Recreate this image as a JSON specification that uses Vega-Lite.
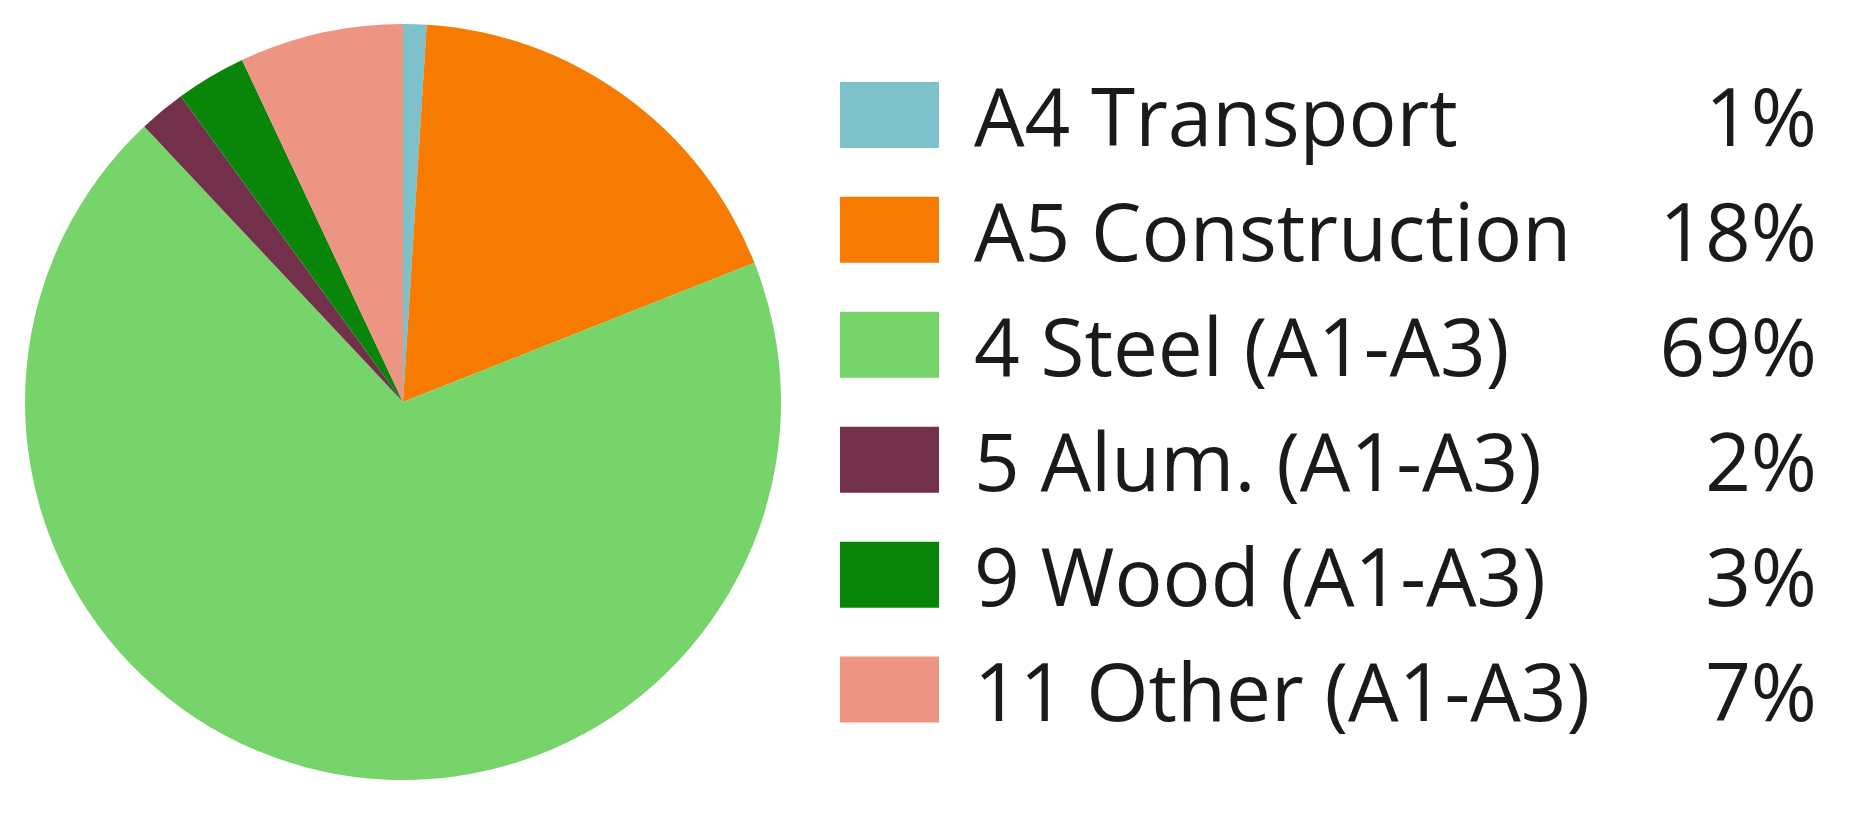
{
  "$schema": "https://vega.github.io/schema/vega-lite/v6.json",
  "padding": 0,
  "spacing": 0,
  "background": "white",
  "config": {"view": {"stroke": null}, "font": "Open Sans"},
  "data": {"values": [
    {"category": "A4 Transport", "value": 0.01, "rank": 1},
    {"category": "A5 Construction", "value": 0.18, "rank": 2},
    {"category": "4 Steel (A1-A3)", "value": 0.69, "rank": 3},
    {"category": "5 Alum. (A1-A3)", "value": 0.02, "rank": 4},
    {"category": "9 Wood (A1-A3)", "value": 0.03, "rank": 5},
    {"category": "11 Other (A1-A3)", "value": 0.07, "rank": 6}
  ]},
  "hconcat": [
    {
      "width": 806,
      "height": 804,
      "mark": {"type": "arc", "outerRadius": 378, "strokeWidth": 0},
      "encoding": {
        "theta": {"field": "value", "type": "quantitative", "stack": true},
        "order": {"field": "rank", "type": "quantitative"},
        "color": {
          "field": "category",
          "type": "nominal",
          "legend": null,
          "scale": {
            "domain": ["A4 Transport", "A5 Construction", "4 Steel (A1-A3)", "5 Alum. (A1-A3)", "9 Wood (A1-A3)", "11 Other (A1-A3)"],
            "range": ["#7dc1cb", "#f77b00", "#77d46b", "#72304a", "#098509", "#ee9483"]
          }
        }
      }
    },
    {
      "width": 1062,
      "height": 816,
      "encoding": {
        "y": {"field": "rank", "type": "quantitative", "axis": null,
              "scale": {"domain": [0, 7.1], "reverse": true, "nice": false, "zero": false}}
      },
      "layer": [
        {
          "mark": {"type": "point", "shape": "M-1.5,-1H1.5V1H-1.5Z", "filled": true, "opacity": 1, "size": 4356},
          "encoding": {
            "x": {"datum": 83.5, "type": "quantitative", "axis": null,
                  "scale": {"domain": [0, 1062], "nice": false, "zero": false}},
            "color": {
              "field": "category",
              "type": "nominal",
              "legend": null,
              "scale": {
                "domain": ["A4 Transport", "A5 Construction", "4 Steel (A1-A3)", "5 Alum. (A1-A3)", "9 Wood (A1-A3)", "11 Other (A1-A3)"],
                "range": ["#7dc1cb", "#f77b00", "#77d46b", "#72304a", "#098509", "#ee9483"]
              }
            }
          }
        },
        {
          "mark": {"type": "text", "align": "left", "baseline": "alphabetic", "dy": 31, "fontSize": 80, "color": "#1a1a1a"},
          "encoding": {
            "x": {"datum": 168, "type": "quantitative"},
            "text": {"field": "category"}
          }
        },
        {
          "mark": {"type": "text", "align": "right", "baseline": "alphabetic", "dy": 31, "fontSize": 80, "color": "#1a1a1a"},
          "encoding": {
            "x": {"datum": 1011, "type": "quantitative"},
            "text": {"field": "value", "format": ".0%"}
          }
        }
      ]
    }
  ]
}
